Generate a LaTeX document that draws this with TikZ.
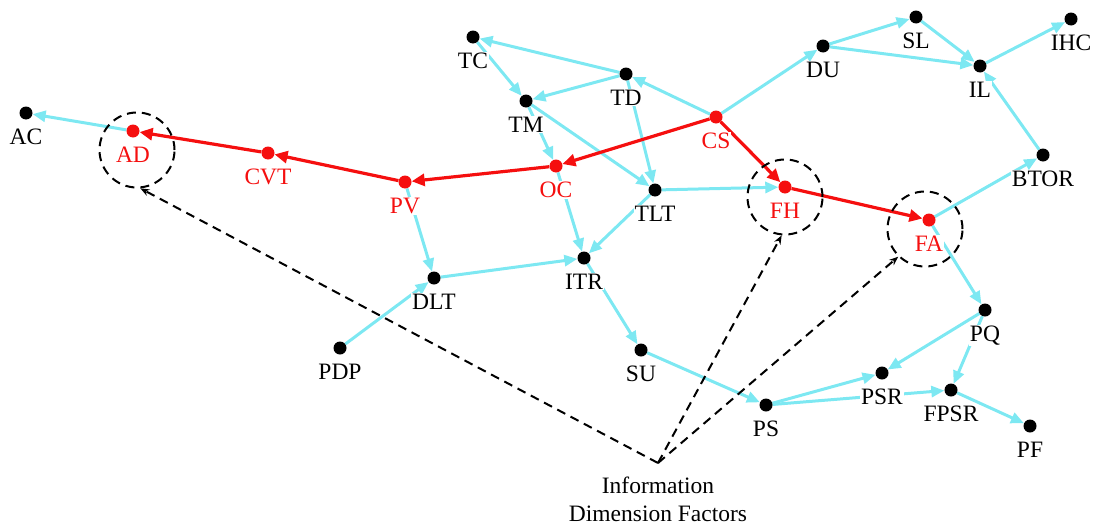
\documentclass[tikz,border=0pt]{standalone}
\usepackage{fontspec}
\setmainfont{Liberation Serif}
\usetikzlibrary{arrows.meta,backgrounds}
\definecolor{link}{RGB}{125,232,242}
\definecolor{hot}{RGB}{245,15,15}

\begin{document}
\begin{tikzpicture}[x=1pt,y=-1pt,
    dot/.style={circle,fill=black,inner sep=0pt,minimum size=13pt},
    hotdot/.style={dot,fill=hot},
    lbl/.style={font=\fontsize{23.5}{28}\selectfont,fill=white,inner sep=1pt},
    edge/.style={line width=3pt,link,-{Triangle[length=13pt,width=11pt]}},
    hotedge/.style={line width=3.2pt,hot,-{Triangle[length=13pt,width=12pt]}},
    ring/.style={circle,draw,line width=2pt,dash pattern=on 9pt off 6pt,minimum size=75pt,inner sep=0pt},
    pointer/.style={line width=2pt,dash pattern=on 9pt off 6pt,-{Stealth[length=9pt,width=7pt]}}]
    \useasboundingbox (0,0) rectangle (1093,525);

    % Factor points
    \foreach \n/\x/\y in {AC/26/113, TC/473/37, TD/626/74, TM/526/101, TLT/655/190,
        DU/823/46, SL/916/17, IL/980/66, IHC/1071/19, BTOR/1043/155,
        DLT/434/278, ITR/584/258, PDP/340/348, SU/641/350, PS/766/405,
        PSR/882/373, FPSR/951/390, PQ/985/310, PF/1030/426} {
        \node[dot,label={[lbl,label distance=8pt]below:\n}] (\n) at (\x,\y) {};
      }

    % Critical path points
    \foreach \n/\x/\y in {AD/133/131, CVT/268/153, PV/405/182, OC/556/166,
        CS/716/117, FH/785/187, FA/929/220} {
        \node[hotdot,label={[lbl,text=hot,label distance=8pt]below:\n}] (\n) at (\x,\y) {};
      }

    % Dashed circles
    \node[ring] (rAD) at (137,150) {};
    \node[ring] (rFH) at (785,197) {};
    \node[ring] (rFA) at (925,229) {};

    % Information dimension factors
    \coordinate (info) at (658,463);
    \node[lbl,align=center,below=13pt] (infotext) at (info) {Information\\Dimension Factors};
    \draw[pointer] (info) -- (rAD.-85);
    \draw[pointer] (info) -- (rFH.-95);
    \draw[pointer] (info) -- (rFA.-134);

    \begin{scope}[on background layer]
      % Links
      \foreach \a/\b in {AD/AC, TD/TC, TC/TM, TD/TM, CS/TD, CS/DU, TM/OC, TM/TLT,
          TD/TLT, TLT/FH, TLT/ITR, OC/ITR, PV/DLT, PDP/DLT, DLT/ITR, ITR/SU,
          SU/PS, PS/PSR, PS/FPSR, PQ/PSR, PQ/FPSR, FPSR/PF, FA/PQ, FA/BTOR,
          BTOR/IL, DU/SL, DU/IL, SL/IL, IL/IHC} {
          \draw[edge] (\a) -- (\b);
        }

      % Critical path
      \foreach \a/\b in {CVT/AD, PV/CVT, OC/PV, CS/OC, CS/FH, FH/FA} {
          \draw[hotedge] (\a) -- (\b);
        }
    \end{scope}
  \end{tikzpicture}
\end{document}
